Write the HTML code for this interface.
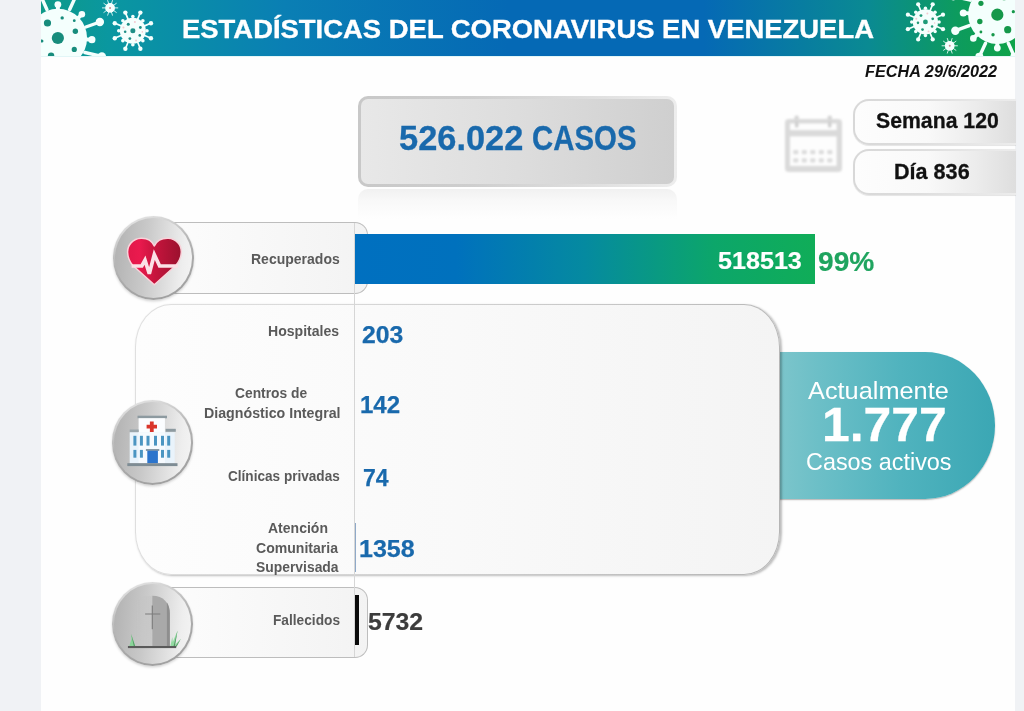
<!DOCTYPE html>
<html lang="es">
<head>
<meta charset="utf-8">
<title>Estadísticas del Coronavirus en Venezuela</title>
<style>
html,body{margin:0;padding:0}
body{width:1024px;height:711px;position:relative;overflow:hidden;background:#f0f2f5;font-family:"Liberation Sans",sans-serif}
.page *{position:absolute;box-sizing:border-box}
.page{position:absolute;left:0;top:0;width:1024px;height:711px;overflow:hidden}
.sheet{left:41.2px;top:0;width:974.3px;height:711px;background:#fefefe}
.tx{white-space:nowrap;line-height:1;transform-origin:0 0;margin:0;padding:0}

/* header */
.header{left:41.2px;top:0;width:974.3px;height:56.4px;overflow:hidden;
  background:linear-gradient(90deg,#0e9a88 0%,#0a97a0 7%,#0a7fb4 25%,#0569b5 48%,#0569b5 68%,#0a8a92 85%,#0d9b5e 94%,#0fa349 100%)}
.header-line{left:41.2px;top:56.4px;width:974.3px;height:1px;background:#e2f6f7}
.header svg{left:0;top:0}

/* total cases */
.casos{left:358px;top:96.2px;width:319px;height:90.8px;border-radius:10px;border:3px solid transparent;
  background:linear-gradient(90deg,#e8e8e8 0%,#dddddd 50%,#cfcfcf 100%) padding-box,
             linear-gradient(90deg,#c8c8c8 0%,#cecece 35%,#dddddd 70%,#ededed 100%) border-box}
.casos-reflect{left:358px;top:188.5px;width:319px;height:30px;border-radius:10px 10px 0 0;
  background:linear-gradient(180deg,rgba(228,228,228,.5) 0%,rgba(236,236,236,.3) 40%,rgba(245,245,245,0) 100%)}

/* week / day */
.pill{left:852.7px;width:163px;height:46.5px;border-radius:16px 0 0 16px;border:2.6px solid transparent;border-right:0;
  background:linear-gradient(90deg,#fdfdfd 0%,#f9f9f9 45%,#ececec 75%,#dedede 100%) padding-box,
             linear-gradient(90deg,#d8d8d8 0%,#dddddd 40%,#e7e7e7 75%,#ececec 100%) border-box;
  box-shadow:0 .8px .8px rgba(0,0,0,.1)}
.pill.semana{top:98.8px}
.pill.dia{top:148.8px}

/* rows */
.label-box{left:150px;width:217.5px;height:71.5px;border-radius:0 13px 13px 0;
  background:linear-gradient(90deg,#fdfdfd,#f3f3f3);border:1.5px solid #bdbdbd;border-left:0}
.label-box.recup{top:222px}
.label-box.fall{top:586.5px}
.circle{width:81.6px;height:84.2px;border-radius:50%;border:2px solid transparent;
  background:linear-gradient(95deg,#b1b1b1 0%,#c9c9c9 40%,#eeeeee 85%,#f4f4f4 100%) padding-box,
             linear-gradient(160deg,#ebebeb 0%,#d2d2d2 22%,#b4b4b4 45%,#a6a6a6 70%,#9e9e9e 100%) border-box;
  box-shadow:0 1.5px 2.5px rgba(0,0,0,.16)}
.circle svg{left:-2px;top:-2px}
.circle.recup{left:112.6px;top:215.6px}
.circle.hosp{left:111.8px;top:400.4px}
.circle.fall{left:111.7px;top:582px}

.bar{left:355px;top:234.2px;width:460.4px;height:49.8px;
  background:linear-gradient(90deg,#0070c0 0%,#0071bd 22%,#058aa0 50%,#0ca66a 78%,#10ad58 100%)}
.axis{left:354.2px;top:222.5px;width:1px;height:434px;background:#d6d6d6}
.bigbox{left:134.6px;top:303.6px;width:645.6px;height:271.8px;border-radius:36px / 43px;border:1.8px solid transparent;
  background:linear-gradient(90deg,#fdfdfd 0%,#f9f9f9 50%,#f4f4f4 100%) padding-box,
             linear-gradient(100deg,#e0e0e0 0%,#d8d8d8 30%,#c8c8c8 65%,#b4b4b4 100%) border-box;
  box-shadow:1.4px 1px 2.2px rgba(0,0,0,.26)}
.minibar{left:354.7px;top:523px;width:1.5px;height:49px;background:#8fa9c8}
.deadbar{left:354.6px;top:595.3px;width:4.8px;height:49.3px;background:#0a0a0a}

.bubble{left:760px;top:352px;width:235.4px;height:147.4px;border-radius:0 70px 70px 0 / 0 73.7px 73.7px 0;
  background:linear-gradient(90deg,#84c8cd 0%,#6cbfc7 25%,#50b3be 60%,#3ba7b4 100%);
  box-shadow:0 1px 1.5px rgba(0,0,0,.3)}
</style>
</head>
<body>
<main class="page">
  <div class="sheet"></div>

  <header class="header">
<svg class="virus" width="974.3" height="56.4" viewBox="41.2 0 974.3 56.4" aria-hidden="true" style="filter:blur(.45px)">
<g transform="translate(58 38) rotate(0)">
<g stroke="#f4fffd" stroke-linecap="round" fill="none">
<line x1="28" y1="-11" x2="42" y2="-16" stroke-width="3.4"/>
<line x1="27" y1="14.5" x2="44" y2="18.5" stroke-width="3.4"/>
<line x1="-11" y1="-28.5" x2="-17" y2="-42" stroke-width="3.4"/>
<line x1="11.8" y1="-28.5" x2="18" y2="-42" stroke-width="3.4"/>
<line x1="-28" y1="-11" x2="-42" y2="-16" stroke-width="3.4"/>
<line x1="-27" y1="14.5" x2="-44" y2="18.5" stroke-width="3.4"/>
<line x1="-11" y1="28.5" x2="-17" y2="42" stroke-width="3.4"/>
<line x1="11.8" y1="28.5" x2="18" y2="42" stroke-width="3.4"/>
</g>
<g fill="#f4fffd">
<circle cx="42" cy="-16" r="4.2"/>
<circle cx="44" cy="18.5" r="4.2"/>
<circle cx="-17" cy="-42" r="4.0"/>
<circle cx="18" cy="-42" r="4.0"/>
<circle cx="-42" cy="-16" r="4.2"/>
<circle cx="-44" cy="18.5" r="4.2"/>
<circle cx="-17" cy="42" r="4.0"/>
<circle cx="18" cy="42" r="4.0"/>
<circle cx="0" cy="-33.4" r="3.4"/>
<path d="M2.20 -27.00 L1.60 -33.40 L-1.60 -33.40 L-2.20 -27.00Z"/>
<circle cx="24" cy="-23.7" r="3.3"/>
<path d="M20.76 -17.41 L25.12 -22.56 L22.88 -24.84 L17.67 -20.54Z"/>
<circle cx="34" cy="1.7" r="3.6"/>
<path d="M26.86 3.55 L33.92 3.30 L34.08 0.10 L27.08 -0.85Z"/>
<circle cx="24" cy="25" r="3.3"/>
<path d="M17.11 21.00 L22.85 26.11 L25.15 23.89 L20.29 17.95Z"/>
<circle cx="0" cy="33.4" r="3.4"/>
<path d="M-2.20 27.00 L-1.60 33.40 L1.60 33.40 L2.20 27.00Z"/>
<circle cx="-24" cy="-23.7" r="3.3"/>
<path d="M-17.67 -20.54 L-22.88 -24.84 L-25.12 -22.56 L-20.76 -17.41Z"/>
<circle cx="-34" cy="1.7" r="3.6"/>
<path d="M-27.08 -0.85 L-34.08 0.10 L-33.92 3.30 L-26.86 3.55Z"/>
<circle cx="-24" cy="25" r="3.3"/>
<path d="M-20.29 17.95 L-25.15 23.89 L-22.85 26.11 L-17.11 21.00Z"/>
<circle cx="0" cy="0" r="29.2"/>
</g>
<g fill="#178c7c">
<circle cx="0" cy="0" r="6.1"/>
<circle cx="-10.4" cy="-15" r="3.6"/>
<circle cx="4.3" cy="-20.1" r="1.7"/>
<circle cx="16.4" cy="-17.3" r="1.4"/>
<circle cx="17.5" cy="-6.8" r="2.7"/>
<circle cx="16.4" cy="11.4" r="2.6"/>
<circle cx="-6.8" cy="17.6" r="3.2"/>
<circle cx="-16" cy="3" r="1.6"/>
<circle cx="4" cy="21" r="1.4"/>
</g></g>
<g transform="translate(133 30.7) rotate(0) scale(1.0000)">
<g stroke="#f4fffd" stroke-width="1.7" stroke-linecap="round">
<line x1="4.59" y1="-11.09" x2="7.39" y2="-17.83"/>
<line x1="11.09" y1="-4.59" x2="17.83" y2="-7.39"/>
<line x1="11.09" y1="4.59" x2="17.83" y2="7.39"/>
<line x1="4.59" y1="11.09" x2="7.39" y2="17.83"/>
<line x1="-4.59" y1="11.09" x2="-7.39" y2="17.83"/>
<line x1="-11.09" y1="4.59" x2="-17.83" y2="7.39"/>
<line x1="-11.09" y1="-4.59" x2="-17.83" y2="-7.39"/>
<line x1="-4.59" y1="-11.09" x2="-7.39" y2="-17.83"/>
</g>
<g fill="#f4fffd">
<circle cx="7.50" cy="-18.11" r="2.2"/>
<circle cx="0.00" cy="-14.10" r="1.8"/>
<circle cx="18.11" cy="-7.50" r="2.2"/>
<circle cx="9.97" cy="-9.97" r="1.8"/>
<circle cx="18.11" cy="7.50" r="2.2"/>
<circle cx="14.10" cy="-0.00" r="1.8"/>
<circle cx="7.50" cy="18.11" r="2.2"/>
<circle cx="9.97" cy="9.97" r="1.8"/>
<circle cx="-7.50" cy="18.11" r="2.2"/>
<circle cx="0.00" cy="14.10" r="1.8"/>
<circle cx="-18.11" cy="7.50" r="2.2"/>
<circle cx="-9.97" cy="9.97" r="1.8"/>
<circle cx="-18.11" cy="-7.50" r="2.2"/>
<circle cx="-14.10" cy="0.00" r="1.8"/>
<circle cx="-7.50" cy="-18.11" r="2.2"/>
<circle cx="-9.97" cy="-9.97" r="1.8"/>
<circle cx="0" cy="0" r="13"/>
</g>
<g fill="#1f8f86">
<circle cx="0" cy="0" r="2.5"/>
<circle cx="-4.6" cy="-6.5" r="1.5"/>
<circle cx="7.5" cy="-3.2" r="1.4"/>
<circle cx="-7.7" cy="1.0" r="1.3"/>
<circle cx="6.9" cy="4.7" r="1.3"/>
<circle cx="-3" cy="7.9" r="1.4"/>
</g>
<g fill="#f3c9cf">
<circle cx="2" cy="-8.7" r="1.0"/>
<circle cx="-9.4" cy="-3.2" r="1.0"/>
<circle cx="3.2" cy="9.8" r="1.0"/>
<circle cx="9.5" cy="1.2" r="0.8"/>
</g></g>
<g transform="translate(110.2 7.9)">
<g stroke="#f4fffd" stroke-width="1" stroke-linecap="round" opacity=".85">
<line x1="1.24" y1="-3.80" x2="2.38" y2="-7.32"/>
<line x1="3.24" y1="-2.35" x2="6.23" y2="-4.53"/>
<line x1="4.00" y1="-0.00" x2="7.70" y2="-0.00"/>
<line x1="3.24" y1="2.35" x2="6.23" y2="4.53"/>
<line x1="1.24" y1="3.80" x2="2.38" y2="7.32"/>
<line x1="-1.24" y1="3.80" x2="-2.38" y2="7.32"/>
<line x1="-3.24" y1="2.35" x2="-6.23" y2="4.53"/>
<line x1="-4.00" y1="0.00" x2="-7.70" y2="0.00"/>
<line x1="-3.24" y1="-2.35" x2="-6.23" y2="-4.53"/>
<line x1="-1.24" y1="-3.80" x2="-2.38" y2="-7.32"/>
</g>
<circle r="4.9" fill="#f4fffd"/><circle r="1" fill="#c98a90"/></g>
<g transform="translate(997.6 14.7) rotate(180)">
<g stroke="#f4fffd" stroke-linecap="round" fill="none">
<line x1="28" y1="-11" x2="42" y2="-16" stroke-width="3.4"/>
<line x1="27" y1="14.5" x2="44" y2="18.5" stroke-width="3.4"/>
<line x1="-11" y1="-28.5" x2="-17" y2="-42" stroke-width="3.4"/>
<line x1="11.8" y1="-28.5" x2="18" y2="-42" stroke-width="3.4"/>
<line x1="-28" y1="-11" x2="-42" y2="-16" stroke-width="3.4"/>
<line x1="-27" y1="14.5" x2="-44" y2="18.5" stroke-width="3.4"/>
<line x1="-11" y1="28.5" x2="-17" y2="42" stroke-width="3.4"/>
<line x1="11.8" y1="28.5" x2="18" y2="42" stroke-width="3.4"/>
</g>
<g fill="#f4fffd">
<circle cx="42" cy="-16" r="4.2"/>
<circle cx="44" cy="18.5" r="4.2"/>
<circle cx="-17" cy="-42" r="4.0"/>
<circle cx="18" cy="-42" r="4.0"/>
<circle cx="-42" cy="-16" r="4.2"/>
<circle cx="-44" cy="18.5" r="4.2"/>
<circle cx="-17" cy="42" r="4.0"/>
<circle cx="18" cy="42" r="4.0"/>
<circle cx="0" cy="-33.4" r="3.4"/>
<path d="M2.20 -27.00 L1.60 -33.40 L-1.60 -33.40 L-2.20 -27.00Z"/>
<circle cx="24" cy="-23.7" r="3.3"/>
<path d="M20.76 -17.41 L25.12 -22.56 L22.88 -24.84 L17.67 -20.54Z"/>
<circle cx="34" cy="1.7" r="3.6"/>
<path d="M26.86 3.55 L33.92 3.30 L34.08 0.10 L27.08 -0.85Z"/>
<circle cx="24" cy="25" r="3.3"/>
<path d="M17.11 21.00 L22.85 26.11 L25.15 23.89 L20.29 17.95Z"/>
<circle cx="0" cy="33.4" r="3.4"/>
<path d="M-2.20 27.00 L-1.60 33.40 L1.60 33.40 L2.20 27.00Z"/>
<circle cx="-24" cy="-23.7" r="3.3"/>
<path d="M-17.67 -20.54 L-22.88 -24.84 L-25.12 -22.56 L-20.76 -17.41Z"/>
<circle cx="-34" cy="1.7" r="3.6"/>
<path d="M-27.08 -0.85 L-34.08 0.10 L-33.92 3.30 L-26.86 3.55Z"/>
<circle cx="-24" cy="25" r="3.3"/>
<path d="M-20.29 17.95 L-25.15 23.89 L-22.85 26.11 L-17.11 21.00Z"/>
<circle cx="0" cy="0" r="29.2"/>
</g>
<g fill="#15984a">
<circle cx="0" cy="0" r="6.1"/>
<circle cx="-10.4" cy="-15" r="3.6"/>
<circle cx="4.3" cy="-20.1" r="1.7"/>
<circle cx="16.4" cy="-17.3" r="1.4"/>
<circle cx="17.5" cy="-6.8" r="2.7"/>
<circle cx="16.4" cy="11.4" r="2.6"/>
<circle cx="-6.8" cy="17.6" r="3.2"/>
<circle cx="-16" cy="3" r="1.6"/>
<circle cx="4" cy="21" r="1.4"/>
</g></g>
<g transform="translate(925.7 21.9) rotate(0) scale(0.9692)">
<g stroke="#f4fffd" stroke-width="1.7" stroke-linecap="round">
<line x1="4.59" y1="-11.09" x2="7.39" y2="-17.83"/>
<line x1="11.09" y1="-4.59" x2="17.83" y2="-7.39"/>
<line x1="11.09" y1="4.59" x2="17.83" y2="7.39"/>
<line x1="4.59" y1="11.09" x2="7.39" y2="17.83"/>
<line x1="-4.59" y1="11.09" x2="-7.39" y2="17.83"/>
<line x1="-11.09" y1="4.59" x2="-17.83" y2="7.39"/>
<line x1="-11.09" y1="-4.59" x2="-17.83" y2="-7.39"/>
<line x1="-4.59" y1="-11.09" x2="-7.39" y2="-17.83"/>
</g>
<g fill="#f4fffd">
<circle cx="7.50" cy="-18.11" r="2.2"/>
<circle cx="0.00" cy="-14.10" r="1.8"/>
<circle cx="18.11" cy="-7.50" r="2.2"/>
<circle cx="9.97" cy="-9.97" r="1.8"/>
<circle cx="18.11" cy="7.50" r="2.2"/>
<circle cx="14.10" cy="-0.00" r="1.8"/>
<circle cx="7.50" cy="18.11" r="2.2"/>
<circle cx="9.97" cy="9.97" r="1.8"/>
<circle cx="-7.50" cy="18.11" r="2.2"/>
<circle cx="0.00" cy="14.10" r="1.8"/>
<circle cx="-18.11" cy="7.50" r="2.2"/>
<circle cx="-9.97" cy="9.97" r="1.8"/>
<circle cx="-18.11" cy="-7.50" r="2.2"/>
<circle cx="-14.10" cy="0.00" r="1.8"/>
<circle cx="-7.50" cy="-18.11" r="2.2"/>
<circle cx="-9.97" cy="-9.97" r="1.8"/>
<circle cx="0" cy="0" r="13"/>
</g>
<g fill="#1f9a78">
<circle cx="0" cy="0" r="2.5"/>
<circle cx="-4.6" cy="-6.5" r="1.5"/>
<circle cx="7.5" cy="-3.2" r="1.4"/>
<circle cx="-7.7" cy="1.0" r="1.3"/>
<circle cx="6.9" cy="4.7" r="1.3"/>
<circle cx="-3" cy="7.9" r="1.4"/>
</g>
<g fill="#f3c9cf">
<circle cx="2" cy="-8.7" r="1.0"/>
<circle cx="-9.4" cy="-3.2" r="1.0"/>
<circle cx="3.2" cy="9.8" r="1.0"/>
<circle cx="9.5" cy="1.2" r="0.8"/>
</g></g>
<g transform="translate(950 45.8)">
<g stroke="#f4fffd" stroke-width="1" stroke-linecap="round" opacity=".85">
<line x1="1.24" y1="-3.80" x2="2.38" y2="-7.32"/>
<line x1="3.24" y1="-2.35" x2="6.23" y2="-4.53"/>
<line x1="4.00" y1="-0.00" x2="7.70" y2="-0.00"/>
<line x1="3.24" y1="2.35" x2="6.23" y2="4.53"/>
<line x1="1.24" y1="3.80" x2="2.38" y2="7.32"/>
<line x1="-1.24" y1="3.80" x2="-2.38" y2="7.32"/>
<line x1="-3.24" y1="2.35" x2="-6.23" y2="4.53"/>
<line x1="-4.00" y1="0.00" x2="-7.70" y2="0.00"/>
<line x1="-3.24" y1="-2.35" x2="-6.23" y2="-4.53"/>
<line x1="-1.24" y1="-3.80" x2="-2.38" y2="-7.32"/>
</g>
<circle r="4.9" fill="#f4fffd"/><circle r="1" fill="#c98a90"/></g>
</svg>
  </header>
  <div class="header-line"></div>

  <section class="casos"></section>
  <div class="casos-reflect"></div>

  <svg class="cal" style="left:780px;top:110px;filter:blur(.9px)" width="68" height="68" viewBox="780 110 68 68" aria-hidden="true">
    <rect x="794.4" y="115.5" width="4.4" height="11.5" rx="1.8" fill="#d6d6d6"/>
    <rect x="827.6" y="115.5" width="4.4" height="11.5" rx="1.8" fill="#d6d6d6"/>
    <rect x="785" y="119" width="57" height="53" rx="4" fill="#dadada"/>
    <rect x="790" y="123.5" width="46.6" height="6.6" fill="#fdfdfd"/>
    <rect x="790" y="136.4" width="46.6" height="29.5" fill="#fdfdfd"/>
    <rect x="795" y="121" width="3.4" height="6.5" rx="1.2" fill="#d0d0d0"/>
    <rect x="828" y="121" width="3.4" height="6.5" rx="1.2" fill="#d0d0d0"/>
    <g fill="#dcdcdc">
      <rect x="793.3" y="150" width="5" height="4.2" rx="1"/><rect x="801.8" y="150" width="5" height="4.2" rx="1"/><rect x="810.3" y="150" width="5" height="4.2" rx="1"/><rect x="818.8" y="150" width="5" height="4.2" rx="1"/><rect x="827.3" y="150" width="5" height="4.2" rx="1"/>
      <rect x="793.3" y="158.3" width="5" height="4.2" rx="1"/><rect x="801.8" y="158.3" width="5" height="4.2" rx="1"/><rect x="810.3" y="158.3" width="5" height="4.2" rx="1"/><rect x="818.8" y="158.3" width="5" height="4.2" rx="1"/><rect x="827.3" y="158.3" width="5" height="4.2" rx="1"/>
    </g>
  </svg>
  <div class="pill semana"></div>
  <div class="pill dia"></div>

  <div class="bubble"></div>
  <section class="bigbox"></section>

  <div class="label-box recup"></div>
  <div class="label-box fall"></div>
  <div class="axis"></div>
  <div class="bar"></div>
  <div class="minibar"></div>
  <div class="deadbar"></div>

  <div class="circle recup"><svg width="81.6" height="84.2" viewBox="112.6 215.6 81.6 84.2" aria-hidden="true" style="filter:blur(.35px)">
    <defs><linearGradient id="hg" x1="0" x2="1" y1="0" y2="0"><stop offset="0" stop-color="#e2184a"/><stop offset=".22" stop-color="#ea1a4e"/><stop offset=".5" stop-color="#c7143d"/><stop offset="1" stop-color="#9a112e"/></linearGradient></defs>
    <path d="M153.9 245.6 C151.2 239.8 145.6 237.7 140.6 237.9 C132.6 238.3 127 244.4 127.2 251.8 C127.4 257 129.2 261.2 132.2 264.8 L153.9 284.3 L175.6 264.8 C178.6 261.2 180.7 257 180.9 251.8 C181.2 244.4 175.8 238.3 167.8 237.9 C162.4 237.7 156.6 239.8 153.9 245.6 Z" fill="url(#hg)" stroke="#f9d3da" stroke-width="1.5" stroke-linejoin="round"/>
    <path d="M131.2 265.6 L141.4 265.6 L144.6 259.8 L148.9 273.4 L153.9 254.2 L159.2 265.6 L177.6 265.6" fill="none" stroke="#fbe1e6" stroke-width="3.7" stroke-linejoin="miter" stroke-miterlimit="3" stroke-linecap="butt"/>
  </svg></div>
  <div class="circle hosp"><svg width="81.6" height="84.2" viewBox="111.7 400.5 81.6 84.2" aria-hidden="true" style="filter:blur(.45px)">
    <rect x="137.2" y="416.2" width="29.5" height="2.6" fill="#8d9aa0"/>
    <rect x="138.3" y="418.7" width="26.3" height="15" fill="#fbfdff"/>
    <rect x="129.4" y="430" width="9" height="2.8" fill="#9aa6ac"/>
    <rect x="165.3" y="429.3" width="10.2" height="3" fill="#8d9aa0"/>
    <rect x="129.4" y="432.8" width="45" height="31" fill="#e9f3fb"/>
    <rect x="138.3" y="432.8" width="26.3" height="31" fill="#f6fafe"/>
    <path d="M149.6 422h3.8v3.3h3.3v3.8h-3.3v3.3h-3.8v-3.3h-3.3v-3.8h3.3z" fill="#d9352b"/>
    <g fill="#4b95c2">
      <rect x="133.1" y="436.3" width="3" height="9.8"/><rect x="139.6" y="436.3" width="3" height="9.8"/><rect x="146.2" y="436.3" width="3" height="9.8"/><rect x="153.7" y="436.3" width="3" height="9.8"/><rect x="160.7" y="436.3" width="3" height="9.8"/><rect x="166.9" y="436.3" width="3" height="9.8"/>
      <rect x="133.1" y="450.4" width="3" height="7.8"/><rect x="139.6" y="450.4" width="3" height="7.8"/><rect x="160.7" y="450.4" width="3" height="7.8"/><rect x="166.9" y="450.4" width="3" height="7.8"/>
    </g>
    <rect x="145.6" y="449.6" width="13.4" height="1.8" fill="#7d8f9c"/>
    <rect x="147" y="451.2" width="10.6" height="12.6" fill="#2b74cc"/>
    <rect x="127" y="463.7" width="50.2" height="2.9" fill="#7e8c94"/>
  </svg></div>
  <div class="circle fall"><svg width="81.6" height="84.2" viewBox="111.7 582 81.6 84.2" aria-hidden="true" style="filter:blur(.4px)">
    <defs><linearGradient id="tg" x1="0" x2="1" y1="0" y2="0"><stop offset="0" stop-color="#c2c2c2" stop-opacity="0"/><stop offset="1" stop-color="#c8c8c8"/></linearGradient></defs>
    <path d="M134.5 647 V606 C134.5 599 141 595.8 152 595.8 V647 Z" fill="url(#tg)"/>
    <path d="M152 595.8 C163 595.8 169.5 603 169.5 614 V647 H152 Z" fill="#a9a9a9"/>
    <path d="M166.6 602.5 C168.6 605.5 169.5 609 169.5 614 V647 H166.6 Z" fill="#8e8e8e"/>
    <path d="M152 605.4 V629.2 M144.8 614 H160" stroke="#7c7c7c" stroke-width="1.15" fill="none"/>
    <g opacity=".95">
    <path d="M128.8 646.5 L131.6 638 L133.8 646.5 Z M132 646.5 L130.6 634 L135.2 646.5 Z" fill="#86d596"/>
    <path d="M170.6 646.5 L177.3 630.5 L174.4 646.5 Z M173 646.5 L180.4 639 L176 646.5 Z M170 646.5 L172 637 L173 646.5Z" fill="#8fdb9f"/>
    <path d="M130.8 633.8 L134.9 646.5 L133.6 646.5 Z M177.3 630.2 L173.2 646.5 L174.6 646.5Z M180.6 638.8 L175 646.5 L176.4 646.5Z" fill="#4f9660"/>
    </g>
    <rect x="127.6" y="646" width="48.3" height="2.1" fill="#5a5a5a"/>
  </svg></div>

  <h1 class="tx" style="left:182.0px;top:15.9px;font-size:26.4px;font-weight:700;color:#ffffff;transform:scaleX(1.0395);-webkit-text-stroke:0.35px #ffffff">ESTADÍSTICAS DEL CORONAVIRUS EN VENEZUELA</h1>
  <div class="tx" style="left:864.8px;top:64.1px;font-size:16.0px;font-weight:700;color:#111111;transform:scaleX(1.0154);font-style:italic">FECHA 29/6/2022</div>
  <div class="tx" style="left:398.6px;top:120.6px;font-size:34.5px;font-weight:700;color:#1969ac;transform:scaleX(0.9968);-webkit-text-stroke:0.3px #1969ac">526.022</div>
  <div class="tx" style="left:532.0px;top:120.6px;font-size:34.5px;font-weight:700;color:#1969ac;transform:scaleX(0.8517);-webkit-text-stroke:0.3px #1969ac">CASOS</div>
  <div class="tx" style="left:876.4px;top:109.9px;font-size:22.4px;font-weight:700;color:#111111;transform:scaleX(0.9485);-webkit-text-stroke:0.3px #111111">Semana 120</div>
  <div class="tx" style="left:893.8px;top:161.4px;font-size:22.0px;font-weight:700;color:#111111;transform:scaleX(0.9816);-webkit-text-stroke:0.3px #111111">Día 836</div>
  <div class="tx" style="left:251.2px;top:251.5px;font-size:14.4px;font-weight:700;color:#5a5a5a;transform:scaleX(0.9734)">Recuperados</div>
  <div class="tx" style="left:717.6px;top:250.3px;font-size:23px;font-weight:700;color:#ffffff;transform:scaleX(1.0923);-webkit-text-stroke:0.2px #ffffff">518513</div>
  <div class="tx" style="left:817.5px;top:247.5px;font-size:27.3px;font-weight:700;color:#1fa45f;transform:scaleX(1.0300);-webkit-text-stroke:0.2px #1fa45f">99%</div>
  <div class="tx" style="left:267.8px;top:323.8px;font-size:14.4px;font-weight:700;color:#5a5a5a;transform:scaleX(0.9779)">Hospitales</div>
  <div class="tx" style="left:361.6px;top:322.9px;font-size:24px;font-weight:700;color:#1969ac;transform:scaleX(1.0310);-webkit-text-stroke:0.25px #1969ac">203</div>
  <div class="tx" style="left:235.4px;top:386.3px;font-size:14.4px;font-weight:700;color:#5a5a5a;transform:scaleX(0.9600)">Centros de</div>
  <div class="tx" style="left:203.6px;top:406.3px;font-size:14.4px;font-weight:700;color:#5a5a5a;transform:scaleX(0.9869)">Diagnóstico Integral</div>
  <div class="tx" style="left:360.4px;top:392.6px;font-size:24px;font-weight:700;color:#1969ac;transform:scaleX(1.0007);-webkit-text-stroke:0.25px #1969ac">142</div>
  <div class="tx" style="left:227.8px;top:468.8px;font-size:14.4px;font-weight:700;color:#5a5a5a;transform:scaleX(0.9441)">Clínicas privadas</div>
  <div class="tx" style="left:362.8px;top:465.6px;font-size:24px;font-weight:700;color:#1969ac;transform:scaleX(0.9574);-webkit-text-stroke:0.25px #1969ac">74</div>
  <div class="tx" style="left:267.6px;top:520.8px;font-size:14.4px;font-weight:700;color:#5a5a5a;transform:scaleX(0.9739)">Atención</div>
  <div class="tx" style="left:256.4px;top:540.6px;font-size:14.4px;font-weight:700;color:#5a5a5a;transform:scaleX(0.9763)">Comunitaria</div>
  <div class="tx" style="left:256.4px;top:559.8px;font-size:14.4px;font-weight:700;color:#5a5a5a;transform:scaleX(0.9648)">Supervisada</div>
  <div class="tx" style="left:359.2px;top:536.9px;font-size:24px;font-weight:700;color:#1969ac;transform:scaleX(1.0425);-webkit-text-stroke:0.25px #1969ac">1358</div>
  <div class="tx" style="left:272.6px;top:612.8px;font-size:14.4px;font-weight:700;color:#5a5a5a;transform:scaleX(0.9519)">Fallecidos</div>
  <div class="tx" style="left:367.6px;top:611.0px;font-size:23.4px;font-weight:700;color:#3c3c3c;transform:scaleX(1.0592);-webkit-text-stroke:0.2px #3c3c3c">5732</div>
  <div class="tx" style="left:808.2px;top:378.8px;font-size:24.6px;font-weight:400;color:#ffffff;transform:scaleX(1.0297)">Actualmente</div>
  <div class="tx" style="left:822.0px;top:401.0px;font-size:48px;font-weight:700;color:#ffffff;transform:scaleX(1.0380);-webkit-text-stroke:0.3px #ffffff">1.777</div>
  <div class="tx" style="left:805.8px;top:449.8px;font-size:24.4px;font-weight:400;color:#ffffff;transform:scaleX(0.9587)">Casos activos</div>
</main>
</body>
</html>
